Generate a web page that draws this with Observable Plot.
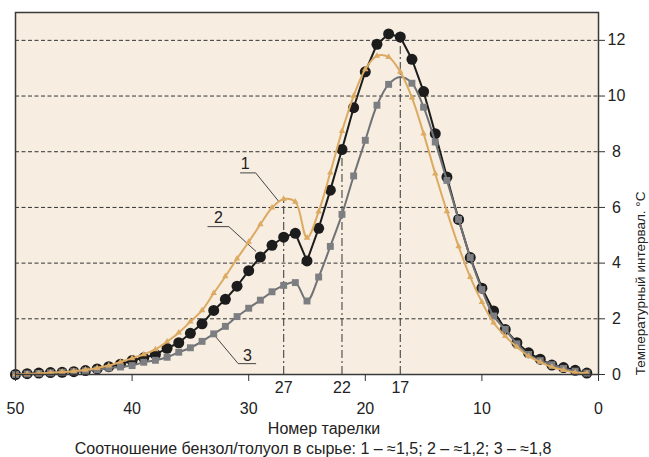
<!DOCTYPE html>
<html><head><meta charset="utf-8">
<script src="https://cdn.jsdelivr.net/npm/d3@7"></script>
<script src="https://cdn.jsdelivr.net/npm/@observablehq/plot@0.6"></script>
<style>
body{margin:0;background:#fff;font-family:"Liberation Sans",Arial,sans-serif}
#chart svg{display:block}
</style>
</head><body><div id="chart"></div>
<script>
const trays = [50,49,48,47,46,45,44,43,42,41,40,39,38,37,36,35,34,33,32,31,30,29,28,27,26,25,24,23,22,21,20,19,18,17,16,15,14,13,12,11,10,9,8,7,6,5,4,3,2,1];
// 1 – ≈1,5 (orange, triangles)
const series1 = [0,0.02,0.04,0.06,0.09,0.12,0.17,0.23,0.32,0.45,0.58,0.72,0.9,1.18,1.5,1.9,2.3,2.92,3.52,4.16,4.76,5.39,5.99,6.3,6.2,4.91,5.85,7.25,8.74,10.0,10.96,11.44,11.4,10.87,9.94,8.65,7.21,5.86,4.6,3.5,2.6,1.86,1.38,0.99,0.66,0.45,0.27,0.16,0.07,0.05];
// 2 – ≈1,2 (black, circles)
const series2 = [0,0.03,0.05,0.07,0.08,0.1,0.14,0.2,0.28,0.37,0.5,0.6,0.72,0.94,1.14,1.48,1.82,2.3,2.7,3.17,3.73,4.22,4.64,4.93,5.07,4.08,5.25,6.62,8.08,9.58,10.87,11.86,12.23,12.12,11.32,10.16,8.65,7.09,5.57,4.2,3.1,2.28,1.62,1.14,0.78,0.55,0.34,0.25,0.15,0.05];
// 3 – ≈1,8 (grey, squares)
const series3 = [0,0.02,0.04,0.06,0.08,0.1,0.13,0.17,0.23,0.27,0.32,0.44,0.51,0.62,0.8,0.96,1.19,1.46,1.73,2.08,2.38,2.67,2.97,3.2,3.3,2.64,3.5,4.6,5.75,7.13,8.41,9.67,10.42,10.68,10.46,9.6,8.35,6.97,5.57,4.2,3.05,2.1,1.62,1.1,0.72,0.5,0.35,0.22,0.12,0.05];
const series3NoMarker = [17];

const xTicks = [50,40,30,20,10,0];
const yTicks = [0,2,4,6,8,10,12];
const gridValues = [2,4,6,8,10,12];
const markerTrays = [27,22,17];
const markerTops = [6.3,8.08,12.12];

const labelText = ["1","2","3"];
const labelX = [30.3,32.6,30.1];
const labelY = [7.56,5.62,0.66];
const leaderId = [1,1,1,2,2,2,3,3,3];
const leaderX = [30.7,29.4,27.45, 33.5,31.7,29.4, 29.4,30.9,33.0];
const leaderY = [7.24,7.24,6.23, 5.31,5.31,4.43, 0.39,0.39,1.44];

const xTitle = "Номер тарелки";
const caption = "Соотношение бензол/толуол в сырье: 1 – ≈1,5; 2 – ≈1,2; 3 – ≈1,8";
const yTitle = "Температурный интервал. °С";

const d1 = trays.map((t,i)=>({t, v:series1[i]}));
const d2 = trays.map((t,i)=>({t, v:series2[i]}));
const d3s = trays.map((t,i)=>({t, v:series3[i]}));
const markers = markerTrays.map((t,i)=>({t, v:markerTops[i]}));
const labels = labelText.map((s,i)=>({s, x:labelX[i], y:labelY[i]}));
const leaders = leaderId.map((id,i)=>({id, x:leaderX[i], y:leaderY[i]}));

const ORANGE = "#dcaa62", BLACK = "#1c1c1c", GREY = "#707276", GREYFILL = "#7c7e82";

const chart = Plot.plot({
  width: 649, height: 457,
  marginLeft: 15, marginRight: 51, marginTop: 12, marginBottom: 83,
  style: {fontFamily: "'Liberation Sans', Arial, sans-serif", fontSize: "16px", color: "#222", background: "#fff"},
  x: {domain: [50, 0]},
  y: {domain: [0, 13]},
  marks: [
    Plot.frame({fill: "#f7eee1"}),
    Plot.ruleY(gridValues, {stroke: "#333", strokeWidth: 1, strokeDasharray: "4,2.5"}),
    Plot.ruleX(markers, {x: "t", y1: 0, y2: "v", stroke: "#444", strokeWidth: 1.1, strokeDasharray: "8,3,2,3"}),
    Plot.line(leaders, {x: "x", y: "y", z: "id", stroke: "#444", strokeWidth: 1}),
    Plot.text(labels, {x: "x", y: "y", text: "s", fontSize: 16, fill: "#222"}),
    Plot.line(d2, {x: "t", y: "v", stroke: BLACK, strokeWidth: 2}),
    Plot.dot(d2, {x: "t", y: "v", r: 5.5, fill: BLACK, symbol: "circle"}),
    Plot.line(d3s, {x: "t", y: "v", stroke: GREY, strokeWidth: 2, curve: "catmull-rom"}),
    Plot.dot(d3s.filter(d => !series3NoMarker.includes(d.t)), {x: "t", y: "v", r: 3.9, fill: GREYFILL, symbol: "square"}),
    Plot.line(d1, {x: "t", y: "v", stroke: ORANGE, strokeWidth: 2, curve: "catmull-rom"}),
    Plot.dot(d1, {x: "t", y: "v", r: 2.4, fill: ORANGE, symbol: "triangle"}),
    Plot.frame({stroke: "#3a3a3a", strokeWidth: 1.5}),
    Plot.axisX({ticks: xTicks, tickSize: 7, tickPadding: 21, fontSize: 16, label: null, tickFormat: d => String(d), stroke: "#333"}),
    Plot.text(markers, {x: "t", text: d => String(d.t), frameAnchor: "bottom", lineAnchor: "top", dy: 7, fontSize: 16, fill: "#222"}),
    Plot.axisY({anchor: "right", ticks: yTicks, tickSize: 6, tickPadding: 12, textAnchor: "middle", fontSize: 16, label: null, stroke: "#333"}),
    Plot.text([xTitle], {text: d => d, frameAnchor: "bottom", lineAnchor: "middle", dx: 17, dy: 54, fontSize: 16, fill: "#222"}),
    Plot.text([caption], {text: d => d, frameAnchor: "bottom", lineAnchor: "middle", dx: 6, dy: 74, fontSize: 16, fill: "#222"}),
    Plot.text([yTitle], {text: d => d, frameAnchor: "right", rotate: -90, dx: 42, dy: -2, fontSize: 13.5, fill: "#222"})
  ]
});
document.getElementById("chart").appendChild(chart);
</script>
</body></html>
